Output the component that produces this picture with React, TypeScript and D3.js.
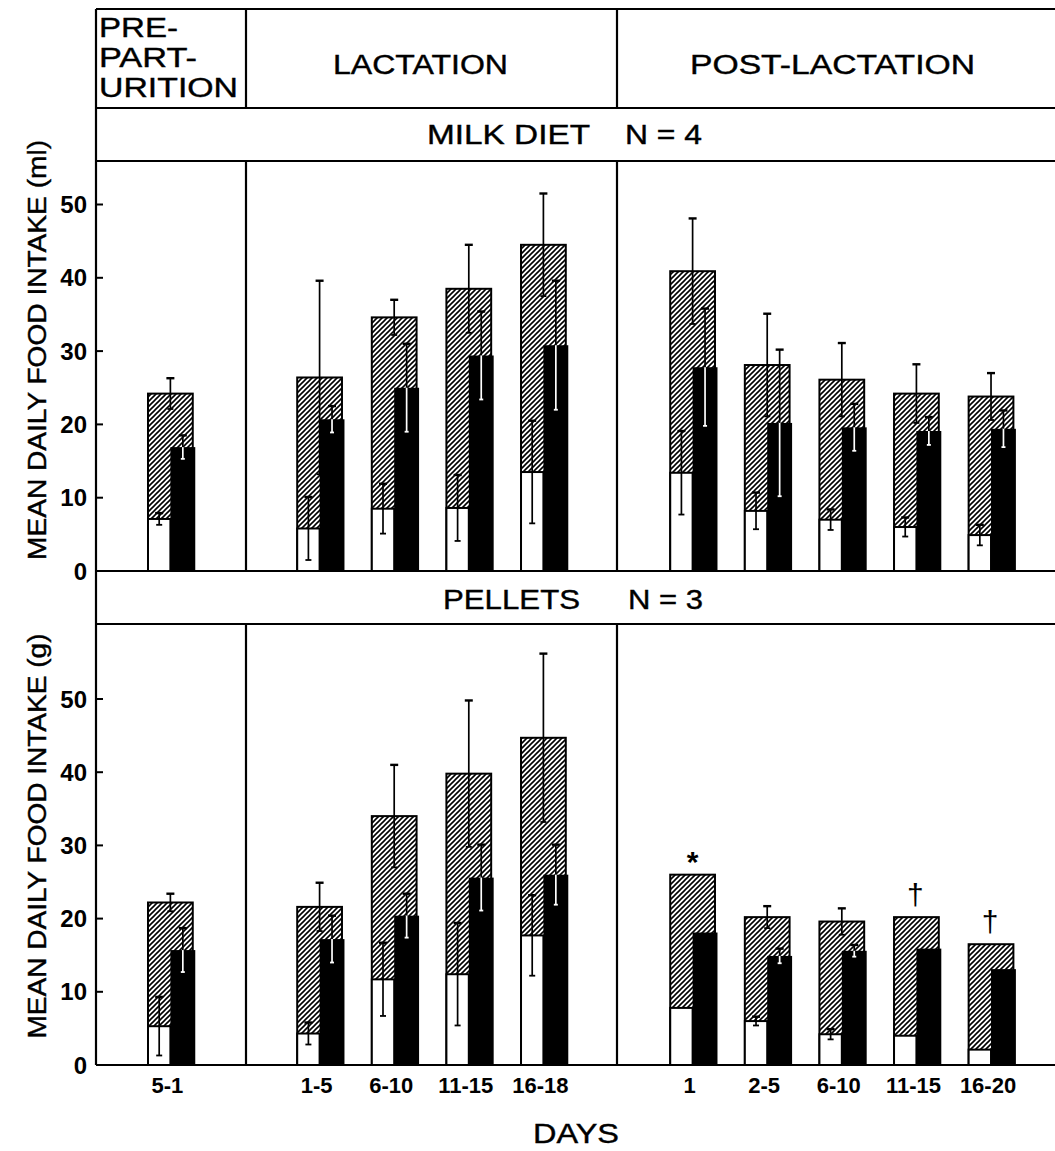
import React from "react";
import * as d3 from "d3";

// ---------- data ----------
const categories = ["5-1", "1-5", "6-10", "11-15", "16-18", "1", "2-5", "6-10", "11-15", "16-20"];
const phases = ["pre", "lact", "lact", "lact", "lact", "post", "post", "post", "post", "post"];

// Milk diet (ml), N = 4
const milkTotal = [24.2, 26.4, 34.6, 38.5, 44.5, 40.9, 28.1, 26.1, 24.2, 23.8];
const milkTotalSE = [2.1, 13.2, 2.4, 6.0, 7.0, 7.2, 7.0, 5.0, 4.0, 3.2];
const milkWhite = [7.1, 5.8, 8.5, 8.6, 13.5, 13.4, 8.2, 7.0, 6.0, 4.9];
const milkWhiteSE = [0.8, 4.3, 3.4, 4.5, 7.0, 5.7, 2.5, 1.4, 1.3, 1.4];
const milkBlack = [16.9, 20.7, 25.0, 29.4, 30.8, 27.8, 20.2, 19.6, 19.1, 19.4];
const milkBlackSE = [1.6, 1.8, 6.0, 6.0, 8.8, 8.0, 10.0, 3.2, 1.9, 2.5];

// Pellets (g), N = 3
const pelTotal = [22.2, 21.6, 34.0, 39.8, 44.7, 26.0, 20.2, 19.6, 20.2, 16.5];
const pelTotalSE = [1.2, 3.3, 7.0, 10.0, 11.5, 0, 1.5, 1.8, 0, 0];
const pelWhite = [5.3, 4.3, 11.7, 12.4, 17.7, 7.8, 6.0, 4.2, 4.0, 2.1];
const pelWhiteSE = [4.0, 1.5, 5.0, 7.0, 5.5, 0, 0.6, 0.7, 0, 0];
const pelBlack = [15.7, 17.2, 20.4, 25.6, 26.0, 18.1, 14.9, 15.6, 15.9, 13.1];
const pelBlackSE = [3.0, 3.2, 3.0, 4.5, 4.1, 0, 1.0, 0.8, 0, 0];
const pelMarks = ["", "", "", "", "", "*", "", "", "†", "†"];

const yTicks = [0, 10, 20, 30, 40, 50];

// ---------- layout ----------
const W = 1055;
const H = 1151;
const FONT = "'Liberation Sans', Arial, Helvetica, sans-serif";
const LEFT = 96;
const TOP = 9;
const HEAD_BOTTOM = 108;
const BAND1_BOTTOM = 161;
const ZERO1 = 571;
const BAND2_BOTTOM = 624;
const ZERO2 = 1065;
const DIV1 = 246;
const DIV2 = 617;

const slotKeys: string[] = [];
categories.forEach((c, i) => {
  if (i > 0 && phases[i] !== phases[i - 1]) slotKeys.push("gap" + i);
  slotKeys.push(phases[i] + ":" + c);
});
const keyOf = (i: number) => phases[i] + ":" + categories[i];

const x = d3
  .scaleBand<string>()
  .domain(slotKeys)
  .range([148, 1013.4])
  .paddingInner(0.4)
  .paddingOuter(0);

const yUpper = d3.scaleLinear().domain([0, 50]).range([ZERO1, 204.5]);
const yLower = d3.scaleLinear().domain([0, 50]).range([ZERO2, 699]);

type PanelProps = {
  y: d3.ScaleLinear<number, number>;
  total: number[];
  totalSE: number[];
  white: number[];
  whiteSE: number[];
  black: number[];
  blackSE: number[];
  marks?: string[];
};

function ErrBar({
  cx,
  y,
  mean,
  se,
  lowColor,
  topCap = 4,
  botCap = 3,
}: {
  cx: number;
  y: d3.ScaleLinear<number, number>;
  mean: number;
  se: number;
  lowColor: string;
  topCap?: number;
  botCap?: number;
}) {
  if (!se) return null;
  const yt = y(mean + se);
  const ym = y(mean);
  const yb = y(Math.max(0, mean - se));
  return (
    <g strokeWidth={1.7} fill="none">
      <line x1={cx} x2={cx} y1={yt} y2={ym} stroke="#000" />
      <line x1={cx - topCap} x2={cx + topCap} y1={yt} y2={yt} stroke="#000" strokeWidth={2.4} />
      <line x1={cx} x2={cx} y1={ym} y2={yb} stroke={lowColor} />
      <line x1={cx - botCap} x2={cx + botCap} y1={yb} y2={yb} stroke={lowColor} strokeWidth={1.8} />
    </g>
  );
}

function Panel({ y, total, totalSE, white, whiteSE, black, blackSE, marks }: PanelProps) {
  const bw = x.bandwidth();
  const half = bw / 2;
  return (
    <g>
      {categories.map((c, i) => {
        const left = x(keyOf(i)) as number;
        const y0 = y(0);
        const bx = left + half;
        const bWidth = half + 2.5;
        return (
          <g key={i}>
            <rect x={left} y={y(total[i])} width={bw} height={y0 - y(total[i])} fill="#fff" />
            <rect
              x={left}
              y={y(total[i])}
              width={bw}
              height={y0 - y(total[i])}
              fill="url(#hatch)"
              stroke="#000"
              strokeWidth={2}
            />
            <rect
              x={left}
              y={y(white[i])}
              width={half}
              height={y0 - y(white[i])}
              fill="#fff"
              stroke="#000"
              strokeWidth={2}
            />
            <rect x={bx} y={y(black[i])} width={bWidth} height={y0 - y(black[i])} fill="#000" />
            <ErrBar cx={left + half / 2} y={y} mean={white[i]} se={whiteSE[i]} lowColor="#000" />
            <ErrBar cx={bx} y={y} mean={total[i]} se={totalSE[i]} lowColor="#000" />
            <ErrBar
              cx={bx + bWidth / 2}
              y={y}
              mean={black[i]}
              se={blackSE[i]}
              lowColor="#fff"
              botCap={2}
            />
            {marks && marks[i] === "*" && (
              <text
                x={left + half}
                y={y(total[i]) - 3}
                textAnchor="middle"
                fontSize={30}
                fontWeight="bold"
                fontFamily={FONT}
              >
                *
              </text>
            )}
            {marks && marks[i] === "†" && (
              <text
                x={left + half - 1}
                y={y(total[i]) - 12}
                textAnchor="middle"
                fontSize={30}
                fontFamily={FONT}
              >
                †
              </text>
            )}
          </g>
        );
      })}
    </g>
  );
}

function YAxis({ y, title, titleLen, cy }: { y: d3.ScaleLinear<number, number>; title: string; titleLen: number; cy: number }) {
  return (
    <g>
      {yTicks.map((t) => (
        <g key={t}>
          {t > 0 && <line x1={LEFT} x2={LEFT + 7} y1={y(t)} y2={y(t)} stroke="#000" strokeWidth={2} />}
          <text
            x={87}
            y={y(t)}
            textAnchor="end"
            dominantBaseline="central"
            fontSize={24}
            fontWeight="bold"
            fontFamily={FONT}
          >
            {t}
          </text>
        </g>
      ))}
      <text
        transform={`translate(37,${cy}) rotate(-90)`}
        textAnchor="middle"
        dominantBaseline="central"
        fontSize={26}
        fontFamily={FONT}
        stroke="#000"
        strokeWidth={0.4}
        textLength={titleLen}
        lengthAdjust="spacingAndGlyphs"
      >
        {title}
      </text>
    </g>
  );
}

export default function App() {
  const lineProps = { stroke: "#000", strokeWidth: 2.2 };
  const catCenter = (i: number) => (x(keyOf(i)) as number) + x.bandwidth() / 2;
  const hdr = { lengthAdjust: "spacingAndGlyphs" as const };
  return (
    <svg
      width={W}
      height={H}
      viewBox={`0 0 ${W} ${H}`}
      style={{ position: "absolute", left: 0, top: 0, background: "#fff" }}
    >
      <defs>
        <pattern id="hatch" patternUnits="userSpaceOnUse" width={5} height={5}>
          <rect width={5} height={5} fill="#fff" />
          <path d="M-1,1 l2,-2 M0,5 l5,-5 M4,6 l2,-2" stroke="#000" strokeWidth={1.6} />
        </pattern>
      </defs>
      <rect width={W} height={H} fill="#fff" />

      {/* frame */}
      <line x1={LEFT} x2={LEFT} y1={TOP} y2={ZERO2} {...lineProps} />
      <line x1={LEFT} x2={W} y1={TOP} y2={TOP} {...lineProps} />
      <line x1={LEFT} x2={W} y1={HEAD_BOTTOM} y2={HEAD_BOTTOM} {...lineProps} />
      <line x1={LEFT} x2={W} y1={BAND1_BOTTOM} y2={BAND1_BOTTOM} {...lineProps} />
      <line x1={LEFT} x2={W} y1={ZERO1} y2={ZERO1} {...lineProps} />
      <line x1={LEFT} x2={W} y1={BAND2_BOTTOM} y2={BAND2_BOTTOM} {...lineProps} />
      <line x1={LEFT} x2={W} y1={ZERO2} y2={ZERO2} {...lineProps} />
      {[DIV1, DIV2].map((d) => (
        <g key={d}>
          <line x1={d} x2={d} y1={TOP} y2={HEAD_BOTTOM} {...lineProps} />
          <line x1={d} x2={d} y1={BAND1_BOTTOM} y2={ZERO1} {...lineProps} />
          <line x1={d} x2={d} y1={BAND2_BOTTOM} y2={ZERO2} {...lineProps} />
        </g>
      ))}

      {/* header */}
      <g fontFamily={FONT} fontSize={27} fill="#000" stroke="#000" strokeWidth={0.4}>
        <text x={99} y={37} textLength={79} {...hdr}>PRE-</text>
        <text x={99} y={67} textLength={98} {...hdr}>PART-</text>
        <text x={99} y={97} textLength={139} {...hdr}>URITION</text>
        <text x={333} y={74} textLength={175} {...hdr}>LACTATION</text>
        <text x={690} y={74} textLength={285} {...hdr}>POST-LACTATION</text>
        <text x={427} y={144} textLength={163} {...hdr}>MILK DIET</text>
        <text x={625} y={144} textLength={77} {...hdr}>N = 4</text>
        <text x={443} y={609} textLength={137} {...hdr}>PELLETS</text>
        <text x={628} y={609} textLength={75} {...hdr}>N = 3</text>
      </g>

      <YAxis y={yUpper} title="MEAN DAILY FOOD INTAKE (ml)" titleLen={420} cy={350} />
      <YAxis y={yLower} title="MEAN DAILY FOOD INTAKE (g)" titleLen={405} cy={836} />

      <Panel
        y={yUpper}
        total={milkTotal}
        totalSE={milkTotalSE}
        white={milkWhite}
        whiteSE={milkWhiteSE}
        black={milkBlack}
        blackSE={milkBlackSE}
      />
      <Panel
        y={yLower}
        total={pelTotal}
        totalSE={pelTotalSE}
        white={pelWhite}
        whiteSE={pelWhiteSE}
        black={pelBlack}
        blackSE={pelBlackSE}
        marks={pelMarks}
      />

      {/* x tick labels */}
      <g fontFamily={FONT} fontSize={22} fontWeight="bold" textAnchor="middle">
        {categories.map((c, i) => (
          <text key={i} x={catCenter(i) - 3} y={1093}>
            {c}
          </text>
        ))}
      </g>
      <text
        x={576}
        y={1143}
        textAnchor="middle"
        fontFamily={FONT}
        fontSize={27}
        stroke="#000"
        strokeWidth={0.4}
        textLength={86}
        lengthAdjust="spacingAndGlyphs"
      >
        DAYS
      </text>
    </svg>
  );
}
